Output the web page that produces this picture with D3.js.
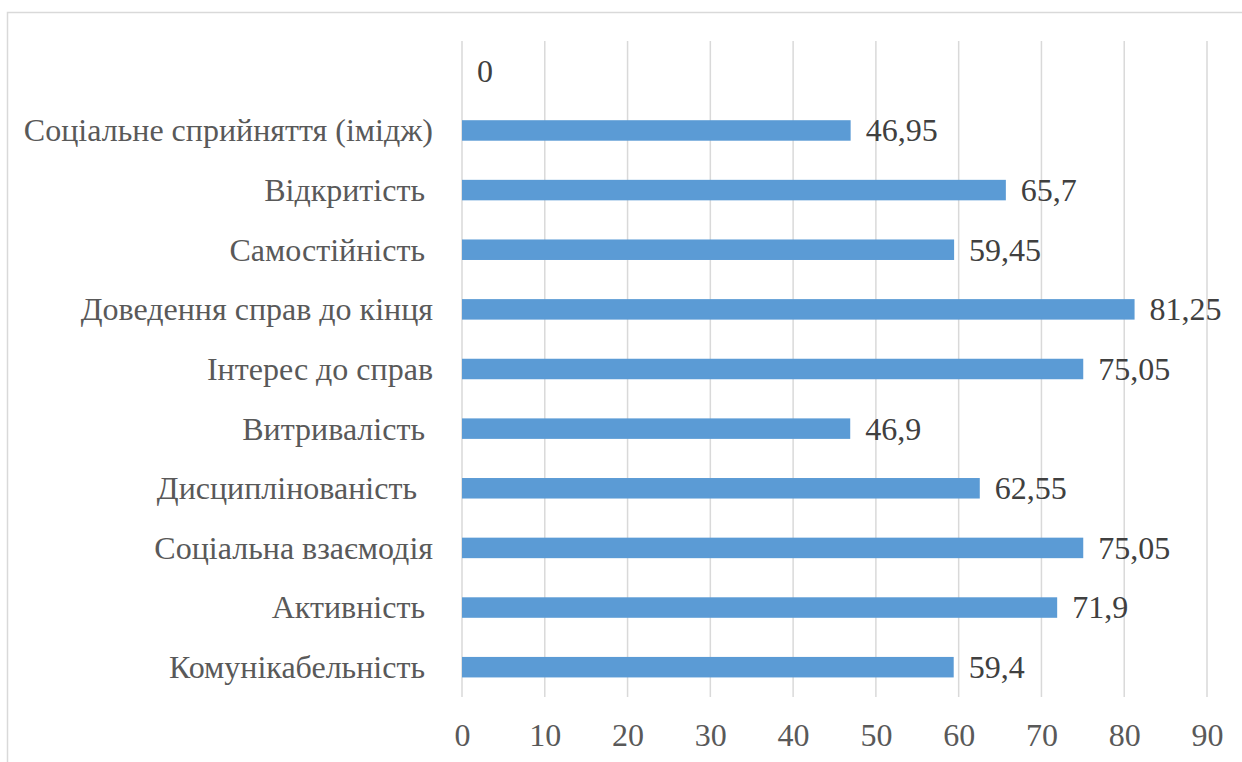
<!DOCTYPE html>
<html><head><meta charset="utf-8">
<script src="https://cdn.jsdelivr.net/npm/d3@7"></script>
<style>
html,body{margin:0;padding:0;background:#fff;}
svg{display:block;}
</style></head>
<body>
<svg id="c" width="1242" height="762" font-family="Liberation Serif"></svg>
<script>
// Categories listed top to bottom (first row is empty in the original)
const categories = ["", "Соціальне сприйняття (імідж)", "Відкритість ", "Самостійність ", "Доведення справ до кінця", "Інтерес до справ", "Витривалість ", "Дисциплінованість  ", "Соціальна взаємодія", "Активність ", "Комунікабельність "];
const values = [0, 46.95, 65.7, 59.45, 81.25, 75.05, 46.9, 62.55, 75.05, 71.9, 59.4];
const xTicks = [0, 10, 20, 30, 40, 50, 60, 70, 80, 90];

const FONT = "'Liberation Serif', monospace";
const svg = d3.select("#c");
// outer frame
svg.append("rect").attr("x", 7.5).attr("y", 12.5).attr("width", 1260).attr("height", 800)
  .attr("fill", "none").attr("stroke", "#d9d9d9").attr("stroke-width", 1.5);

const x = d3.scaleLinear().domain([0, 90]).range([462, 1207]);
const y = d3.scaleBand().domain(d3.range(categories.length)).range([41, 697]).padding(0);
const barH = 20.5;

// gridlines
svg.append("g").selectAll("line").data(xTicks).join("line")
  .attr("x1", d => x(d)).attr("x2", d => x(d))
  .attr("y1", 41).attr("y2", 697)
  .attr("stroke", "#d9d9d9").attr("stroke-width", 1.5);

// bars
svg.append("g").selectAll("rect").data(values).join("rect")
  .attr("x", x(0)).attr("width", d => x(d) - x(0))
  .attr("y", (d, i) => y(i) + y.bandwidth() / 2 - barH / 2)
  .attr("height", barH)
  .attr("fill", "#5b9bd5");

// data labels
const fmt = v => String(v).replace(".", ",");
svg.append("g").selectAll("text").data(values).join("text")
  .attr("x", d => x(d) + 15)
  .attr("y", (d, i) => y(i) + y.bandwidth() / 2)
  .attr("dy", "0.34em")
  .attr("font-size", 32).attr("fill", "#404040")
  .attr("font-family", "Liberation Serif")
  .style("font-family", FONT)
  .text(d => fmt(d));

// category labels
svg.append("g").selectAll("text").data(categories).join("text")
  .attr("x", 433).attr("text-anchor", "end")
  .attr("y", (d, i) => y(i) + y.bandwidth() / 2)
  .attr("dy", "0.34em")
  .attr("font-size", 32).attr("fill", "#595959")
  .attr("font-family", "Liberation Serif")
  .style("font-family", FONT).style("white-space", "pre")
  .text(d => d);

// x axis tick labels
const axis = d3.axisBottom(x).tickValues(xTicks).tickSize(0).tickPadding(0);
const ag = svg.append("g").attr("transform", "translate(0,735)").call(axis)
  .attr("font-family", "Liberation Serif");
ag.select(".domain").remove();
ag.selectAll("text").attr("font-size", 32).attr("fill", "#595959")
  .style("font-family", FONT)
  .attr("y", 0).attr("dy", "0.34em");
</script>
</body></html>
